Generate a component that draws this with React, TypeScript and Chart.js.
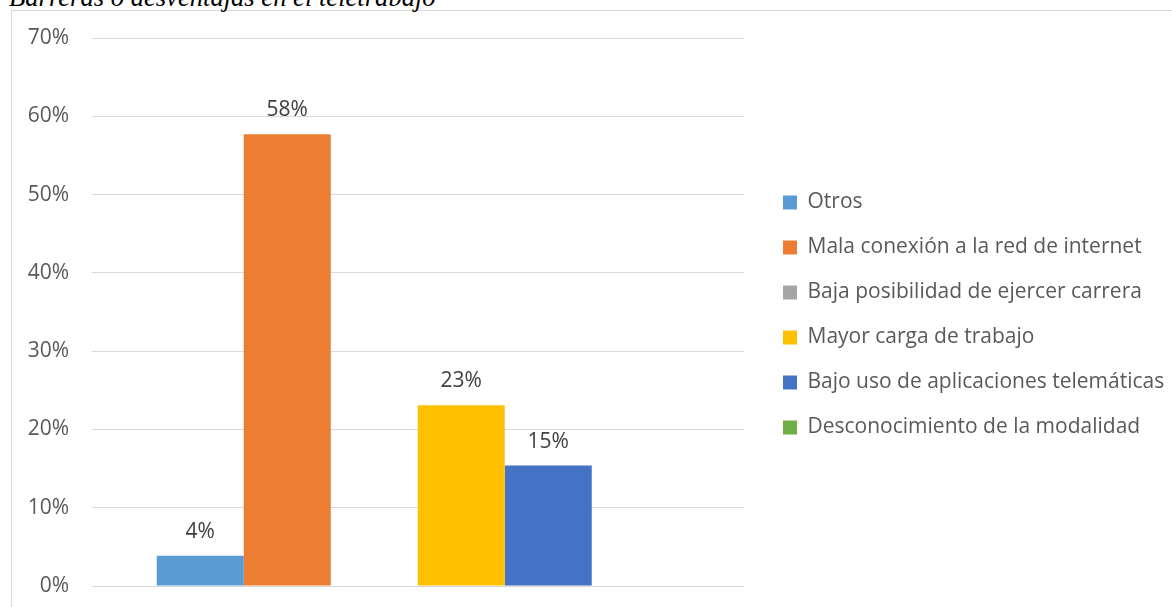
import React, { useEffect, useRef } from 'react';
import { Chart, registerables } from 'chart.js';

Chart.register(...registerables);

const TITLE = 'Barreras o desventajas en el teletrabajo';
const categories = [''];
const seriesNames = [
  'Otros',
  'Mala conexión a la red de internet',
  'Baja posibilidad de ejercer carrera',
  'Mayor carga de trabajo',
  'Bajo uso de aplicaciones telemáticas',
  'Desconocimiento de la modalidad',
];
const seriesValues = [3.85, 57.69, 0, 23.08, 15.38, 0];
const seriesColors = ['#5B9BD5', '#ED7D31', '#A5A5A5', '#FFC000', '#4472C4', '#70AD47'];
const yTicks = [0, 10, 20, 30, 40, 50, 60, 70];

const FONT = "'Open Sans', sans-serif";
const LEGEND_W = 413;

const dataLabels = {
  id: 'dataLabels',
  afterDatasetsDraw(chart: any) {
    const ctx = chart.ctx;
    ctx.save();
    ctx.font = `21px ${FONT}`;
    ctx.fillStyle = '#404040';
    ctx.textAlign = 'center';
    ctx.textBaseline = 'alphabetic';
    chart.data.datasets.forEach((ds: any, i: number) => {
      const meta = chart.getDatasetMeta(i);
      meta.data.forEach((bar: any, j: number) => {
        const v = ds.data[j];
        if (!v) return;
        ctx.fillText(Math.round(v) + '%', bar.x, bar.y - 18);
      });
    });
    ctx.restore();
  },
};

const legendWidth = {
  id: 'legendWidth',
  beforeLayout(chart: any) {
    const lg = chart.legend;
    if (lg && !lg.__fixed) {
      const orig = lg.fit;
      lg.fit = function () {
        orig.call(this);
        this.width = LEGEND_W;
      };
      lg.__fixed = true;
    }
  },
};

export default function App() {
  const ref = useRef<HTMLCanvasElement | null>(null);

  useEffect(() => {
    if (!ref.current) return;
    const chart = new Chart(ref.current, {
      type: 'bar',
      data: {
        labels: categories,
        datasets: seriesNames.map((name, i) => ({
          label: name,
          data: [seriesValues[i]],
          backgroundColor: seriesColors[i],
          borderWidth: 0,
          categoryPercentage: 0.8,
          barPercentage: 1.0,
        })),
      },
      options: {
        animation: false,
        responsive: false,
        devicePixelRatio: 1,
        layout: { padding: { left: 11, right: 0, top: 38, bottom: 21 } },
        scales: {
          x: { display: false },
          y: {
            type: 'linear',
            min: 0,
            max: 70,
            afterBuildTicks: (s: any) => {
              s.ticks = yTicks.map((v) => ({ value: v }));
            },
            ticks: {
              callback: (v: any) => v + '%',
              color: '#595959',
              font: { family: FONT, size: 21 },
              padding: 0,
            },
            grid: {
              color: '#d9d9d9',
              drawTicks: true,
              tickLength: 22.5,
              tickColor: 'rgba(0,0,0,0)',
              lineWidth: 1,
            },
            border: { display: false },
            afterFit: (s: any) => {
              s.width = 80.5;
            },
          },
          y2: {
            type: 'linear',
            position: 'right',
            display: true,
            ticks: { display: false, padding: 0 },
            grid: { display: false, drawTicks: false },
            border: { display: false },
            afterFit: (s: any) => {
              s.width = 15;
            },
          },
        },
        plugins: {
          legend: {
            position: 'right',
            title: { display: true, text: '', font: { size: 6, lineHeight: 1 }, padding: 0 },
            labels: {
              boxWidth: 14,
              boxHeight: 14,
              padding: 24,
              color: '#595959',
              font: { family: FONT, size: 21 },
            },
          },
          tooltip: { enabled: false },
        },
      } as any,
      plugins: [dataLabels, legendWidth],
    });
    return () => chart.destroy();
  }, []);

  return (
    <div style={{ position: 'absolute', left: 0, top: 0, width: 1172, height: 607, overflow: 'hidden', background: '#fff' }}>
      <div
        style={{
          position: 'absolute',
          left: 11,
          top: 10,
          width: 1200,
          height: 640,
          borderLeft: '1px solid #d9d9d9',
          borderTop: '1px solid #d9d9d9',
        }}
      />
      <div
        style={{
          position: 'absolute',
          left: 9,
          top: -15.8,
          fontFamily: "'Liberation Serif', serif",
          fontStyle: 'italic',
          fontSize: 26.6,
          lineHeight: 1,
          whiteSpace: 'nowrap',
          color: '#000',
        }}
      >
        {TITLE}
      </div>
      <canvas ref={ref} width={1172} height={607} style={{ position: 'absolute', left: 0, top: 0, width: 1172, height: 607 }} />
    </div>
  );
}
